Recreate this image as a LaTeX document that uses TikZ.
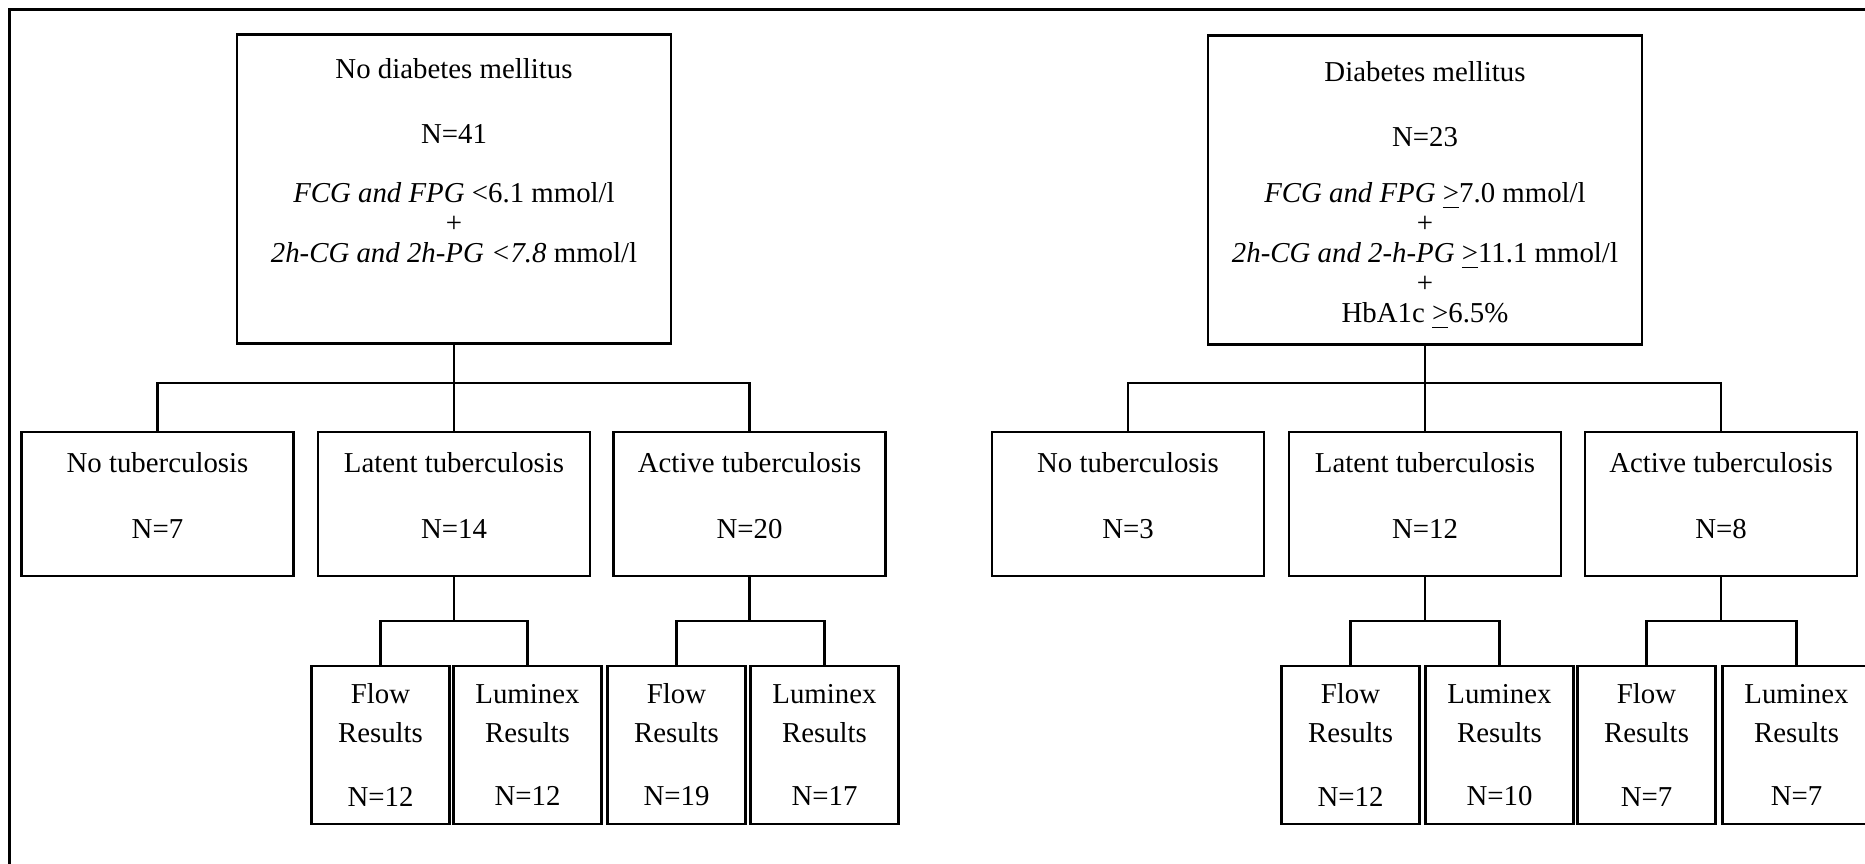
\documentclass[tikz,border=0pt]{standalone}
\usepackage{fontspec}
\setmainfont{Liberation Serif}
\usetikzlibrary{positioning}
\newcommand{\geqline}{\smash{\underline{>}}}

\begin{document}
\begin{tikzpicture}[x=0.01cm, y=-0.01cm, line width=0.65pt,
  every node/.append style={align=center, inner sep=0pt, font=\fontsize{8.2}{8.54}\selectfont},
  dmbox/.style={draw=black, minimum width=4.34cm, minimum height=3.09cm},
  tbbox/.style={draw=black, minimum width=2.72cm, minimum height=1.44cm},
  resbox/.style={draw=black, minimum width=#1, minimum height=1.58cm},
  resbox/.default=1.38cm]
  \useasboundingbox (0,0) rectangle (1865,864);
  \clip (0,0) rectangle (1865,864);
  \draw[line width=0.8pt] (9.5,880) |- (1880,9.5);

  % no diabetes side
  \node [dmbox] at (454,189) (nodm) {};
  \node [anchor=north] at (454,57) (nodmtext) {No diabetes mellitus\\[9.95pt] N=41\\[8.25pt] \textit{FCG and FPG} <6.1 mmol/l\\ +\\ \textit{2h-CG and 2h-PG <7.8} mmol/l};
  \node [tbbox] at (157.5,504) (notb0) {No tuberculosis\\[9.95pt]N=7\\[-3.7pt]\mbox{}};
  \node [tbbox] at (454,504) (lat0) {Latent tuberculosis\\[9.95pt]N=14\\[-3.7pt]\mbox{}};
  \node [tbbox] at (749.5,504) (act0) {Active tuberculosis\\[9.95pt]N=20\\[-3.7pt]\mbox{}};
  \node [resbox] at (380.5,745) (flow0) {Flow\\[2.55pt]Results\\[9.4pt]N=12};
  \node [resbox=1.48cm] at (527.5,745) (lum0) {Luminex\\[2.55pt]Results\\[9.4pt]N=12};
  \node [resbox] at (676.5,745) (flow1) {Flow\\[2.55pt]Results\\[9.4pt]N=19};
  \node [resbox=1.48cm] at (824.5,745) (lum1) {Luminex\\[2.55pt]Results\\[9.4pt]N=17};

  % diabetes side
  \node [dmbox] at (1425,190) (dm) {};
  \node [anchor=north] at (1425,60) (dmtext) {Diabetes mellitus\\[9.95pt] N=23\\[7.5pt] \textit{FCG and FPG} \geqline7.0 mmol/l\\ +\\ \textit{2h-CG and 2-h-PG} \geqline11.1 mmol/l\\ +\\ HbA1c \geqline6.5\%};
  \node [tbbox] at (1128,504) (notb1) {No tuberculosis\\[9.95pt]N=3\\[-3.7pt]\mbox{}};
  \node [tbbox] at (1425,504) (lat1) {Latent tuberculosis\\[9.95pt]N=12\\[-3.7pt]\mbox{}};
  \node [tbbox] at (1721,504) (act1) {Active tuberculosis\\[9.95pt]N=8\\[-3.7pt]\mbox{}};
  \node [resbox] at (1350.5,745) (flow2) {Flow\\[2.55pt]Results\\[9.4pt]N=12};
  \node [resbox=1.48cm] at (1499.5,745) (lum2) {Luminex\\[2.55pt]Results\\[9.4pt]N=10};
  \node [resbox] at (1646.5,745) (flow3) {Flow\\[2.55pt]Results\\[9.4pt]N=7};
  \node [resbox=1.48cm] at (1796.5,745) (lum3) {Luminex\\[2.55pt]Results\\[9.4pt]N=7};

  \draw (nodm.south) -- (lat0.north);
  \draw (notb0.north) -- ++(0,-48) -| (act0.north);
  \draw (flow0.north) -- ++(0,-44) coordinate (sub0) -| (lum0.north);
  \draw (lat0.south) -- (lat0.south |- sub0);
  \draw (flow1.north) -- ++(0,-44) coordinate (sub1) -| (lum1.north);
  \draw (act0.south) -- (act0.south |- sub1);

  \draw (dm.south) -- (lat1.north);
  \draw (notb1.north) -- ++(0,-48) -| (act1.north);
  \draw (flow2.north) -- ++(0,-44) coordinate (sub2) -| (lum2.north);
  \draw (lat1.south) -- (lat1.south |- sub2);
  \draw (flow3.north) -- ++(0,-44) coordinate (sub3) -| (lum3.north);
  \draw (act1.south) -- (act1.south |- sub3);
\end{tikzpicture}
\end{document}
